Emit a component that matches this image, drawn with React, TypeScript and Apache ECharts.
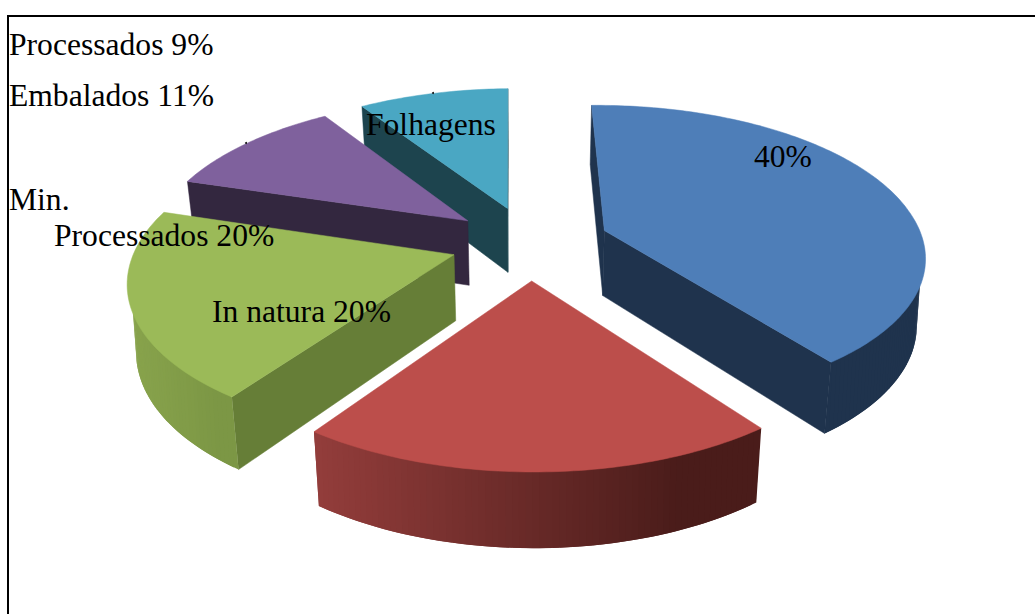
import React, { useEffect, useRef } from "react";
import * as echarts from "echarts";

const categories = ["Folhagens", "In natura", "Min. Processados", "Embalados", "Processados"];
const values = [40, 20, 20, 11, 9];
const topColors = ["#4E7EB8", "#BC4E4B", "#9BBA58", "#7F619D", "#4AA7C3"];
const sideColors = ["#1F334D", "#4A1C1A", "#667E37", "#33273F", "#1D444E"];
const stacking = [3, 5, 4, 2, 1];
const outerStops: string[][] = [
  ["#1F334D", "#1F334D"],
  ["#933D3B", "#4A1C1A"],
  ["#88A34C", "#7C9745"],
  ["#33273F", "#33273F"],
  ["#1D444E", "#1D444E"],
];

const labels = [
  { text: "Processados 9%", x: 9, y: 55 },
  { text: "Embalados 11%", x: 9, y: 106 },
  { text: "Min.", x: 9, y: 210 },
  { text: "Processados 20%", x: 54, y: 246 },
  { text: "In natura 20%", x: 212, y: 322 },
  { text: "Folhagens", x: 366, y: 135 },
  { text: "40%", x: 754, y: 167 },
];

const view = {
  cx: 529,
  cy: 242.5,
  a: 318,
  b: 148,
  c: 0.155,
  explode: 0.25,
  depth: 65.5,
  shrink: 0.978,
  shearNear: 0.04,
  shearFar: 0.02,
  shearOrigin: 215,
  shearY: -0.008,
};

function project(u: number, v: number, bottom: boolean): number[] {
  const w = 1 + view.c * v;
  const x = (view.a * u) / w;
  const y = (-view.b * v) / w;
  const dy = view.cy + y - view.shearOrigin;
  const sx = dy * (dy > 0 ? view.shearNear : view.shearFar);
  const sy = x * view.shearY;
  if (!bottom) return [view.cx + x + sx, view.cy + y + sy];
  return [view.cx + x * view.shrink + sx, view.cy + y * view.shrink + view.depth / w + sy];
}

const cross = (o: number[], a: number[], b: number[]) =>
  (a[0] - o[0]) * (b[1] - o[1]) - (a[1] - o[1]) * (b[0] - o[0]);

function renderSlice(params: any, api: any) {
  const i = params.dataIndex;
  const total = values.reduce((s, v) => s + v, 0);
  const before = values.slice(0, i).reduce((s, v) => s + v, 0);
  const start = (before / total) * 2 * Math.PI;
  const end = ((before + api.value(0)) / total) * 2 * Math.PI;
  const mid = (start + end) / 2;
  const ou = view.explode * Math.sin(mid);
  const ov = view.explode * Math.cos(mid);
  const steps = Math.max(8, Math.round(((end - start) * 180) / Math.PI));
  const rim: number[][] = [];
  for (let k = 0; k <= steps; k++) {
    const t = start + ((end - start) * k) / steps;
    rim.push([ou + Math.sin(t), ov + Math.cos(t)]);
  }
  const top = rim.map((p) => project(p[0], p[1], false));
  const bot = rim.map((p) => project(p[0], p[1], true));
  const apexT = project(ou, ov, false);
  const apexB = project(ou, ov, true);
  const inset = top.map((p, k) =>
    k === 0 || k === steps
      ? p
      : [p[0] + (apexT[0] - p[0]) * 0.012, p[1] + (apexT[1] - p[1]) * 0.012]
  );
  const side = sideColors[i];
  const z2 = stacking[i] * 10;
  const poly = (points: number[][], fill: any, z: number, edge: boolean) => ({
    type: "polygon",
    z2: z2 + z,
    shape: { points },
    style: { fill, stroke: edge ? fill : "none", lineWidth: 0.5 },
  });
  const xs = top.map((p) => p[0]);
  const minX = Math.min(...xs);
  const maxX = Math.max(...xs);
  const bands: any[] = [];
  for (let k = 0; k < steps; k++) {
    const outward = cross(top[k], top[k + 1], bot[k]);
    const inward = cross(top[k], top[k + 1], apexT);
    if (outward * inward > 0) continue;
    const n = Math.min(steps, k + 2);
    const f = Math.min(1, ((top[k][0] + top[k + 1][0]) / 2 - minX) / ((maxX - minX) * 0.82));
    const fill = echarts.color.lerp(f, outerStops[i]);
    bands.push(poly([inset[k], inset[n], bot[n], bot[k]], fill, 1 + k * 0.001, false));
  }
  const middle = top[Math.round(steps / 2)];
  const walls: any[] = [];
  [0, steps].forEach((e) => {
    if (cross(apexT, top[e], bot[e]) * cross(apexT, top[e], middle) < 0) {
      walls.push(poly([apexT, top[e], bot[e], apexB], side, e === steps ? 3 : 0, true));
    }
  });
  return {
    type: "group",
    children: [...walls.filter((w) => w.z2 === z2), ...bands, ...walls.filter((w) => w.z2 !== z2), poly([apexT, ...top], topColors[i], 4, true)],
  };
}

export default function App() {
  const ref = useRef<HTMLDivElement>(null);
  useEffect(() => {
    const chart = echarts.init(ref.current!, undefined, { renderer: "svg" });
    chart.setOption({
      animation: false,
      backgroundColor: "#ffffff",
      series: [
        {
          type: "custom",
          coordinateSystem: "none",
          silent: true,
          renderItem: renderSlice,
          data: categories.map((name, i) => ({ name, value: [values[i]] })),
        },
      ],
      graphic: [
        {
          type: "polyline",
          z: 90,
          shape: { points: [[8, 620], [8, 16], [1040, 16]] },
          style: { stroke: "#000000", lineWidth: 2, fill: "none" },
        },
        { type: "circle", z: 90, shape: { cx: 246, cy: 143, r: 1 }, style: { fill: "#111111" } },
        { type: "circle", z: 90, shape: { cx: 433, cy: 93, r: 1 }, style: { fill: "#111111" } },
        ...labels.map((l) => ({
          type: "text",
          z: 100,
          x: l.x,
          y: l.y - 27,
          style: {
            text: l.text,
            font: '31.6px "Liberation Serif"',
            fill: "#000000",
            textAlign: "left",
            textVerticalAlign: "top",
          },
        })),
      ],
    });
    return () => chart.dispose();
  }, []);
  return (
    <div
      ref={ref}
      style={{ position: "fixed", left: 0, top: 0, width: 1035, height: 614 }}
    />
  );
}
